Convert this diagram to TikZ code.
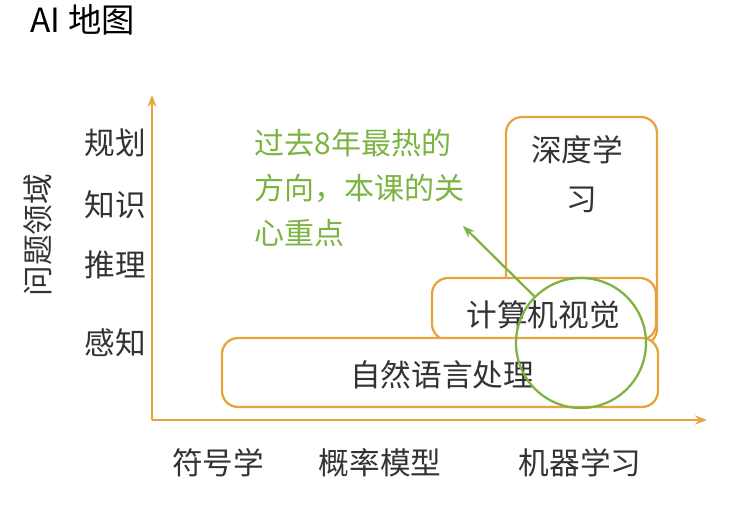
\documentclass[tikz,border=0pt]{standalone}
\usepackage{fontspec}
\setmainfont{Noto Sans CJK SC}
\usetikzlibrary{arrows.meta}
\definecolor{org}{HTML}{E8A33D}
\definecolor{grn}{HTML}{7CB342}
\definecolor{txt}{HTML}{333333}
\tikzset{box/.style={draw=org,line width=1.7pt,rounded corners=12pt,fill=white},
lbl/.style={text=txt,font=\fontsize{23}{26}\selectfont},
gt/.style={text=grn,font=\fontsize{22.5}{26}\selectfont,anchor=west}}
\begin{document}
\begin{tikzpicture}[x=0.75pt,y=-0.75pt]
\useasboundingbox (0,0) rectangle (756,507);
\node[anchor=west,font=\fontsize{25}{28}\selectfont] (title) at (26,20) {AI 地图};
\coordinate (o) at (152,420);
\coordinate (yt) at (152,95);
\coordinate (xt) at (707,420);
\draw[org,line width=1.7pt,-{Stealth[length=9pt]}] (o) -- (yt);
\draw[org,line width=1.7pt,-{Stealth[length=9pt]}] (o) -- (xt);
\node[lbl] (p1) at (115,143) {规划};
\node[lbl] (p2) at (115,205) {知识};
\node[lbl] (p3) at (115,265) {推理};
\node[lbl] (p4) at (115,343) {感知};
\node[lbl,rotate=90] (yl) at (38,235) {问题领域};
\node[lbl] (x1) at (218,463) {符号学};
\node[lbl] (x2) at (380,463) {概率模型};
\node[lbl] (x3) at (580,463) {机器学习};
\draw[box] (506,117) rectangle (657,345);
\node[lbl] (dl1) at (577,150) {深度学};
\node[lbl] (dl2) at (582,200) {习};
\draw[box] (432,278) rectangle (656,340);
\node[lbl] (cv) at (543,315) {计算机视觉};
\draw[box] (222,338) rectangle (658,407);
\node[lbl] (nlp) at (442,375) {自然语言处理};
\node[draw=grn,line width=1.7pt,circle,minimum size=97.5pt] (c) at (581,343) {};
\node[gt] (g1) at (250,143) {过去8年最热的};
\node[gt] (g2) at (250,188) {方向，本课的关};
\node[gt] (g3) at (250,233) {心重点};
\coordinate (ah) at (463,226);
\draw[grn,line width=1.7pt,-{Stealth[length=9pt]}] (c.135) -- (ah);
\end{tikzpicture}
\end{document}
